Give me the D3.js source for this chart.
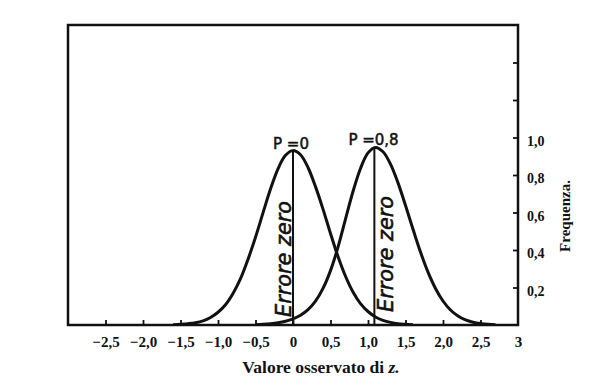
<!DOCTYPE html>
<html>
<head>
<meta charset="utf-8">
<script src="https://cdn.jsdelivr.net/npm/d3@7"></script>
<style>
  html, body { margin: 0; padding: 0; background: #fff; }
  svg { display: block; }
</style>
</head>
<body>
<svg id="chart" width="606" height="387"></svg>
<script>
// ---- data ----
const zA = [-1.6,-1.5,-1.4,-1.3,-1.2,-1.1,-1.0,-0.9,-0.8,-0.7,-0.6,-0.5,-0.4,-0.3,-0.2,-0.1,0.0,
            0.1,0.2,0.3,0.4,0.5,0.6,0.7,0.8,0.9,1.0,1.1,1.2,1.3,1.4,1.5,1.6];
const freqA = [0.002,0.004,0.007,0.012,0.022,0.040,0.068,0.108,0.168,0.247,0.350,0.468,0.598,0.725,0.833,0.905,0.930,
               0.908,0.840,0.738,0.618,0.488,0.365,0.260,0.176,0.114,0.072,0.043,0.025,0.014,0.007,0.004,0.002];

const zB = [-0.5,-0.4,-0.3,-0.2,-0.1,0.0,0.1,0.2,0.3,0.4,0.5,0.6,0.7,0.8,0.9,1.0,1.1,
            1.2,1.3,1.4,1.5,1.6,1.7,1.8,1.9,2.0,2.1,2.2,2.3,2.4,2.5,2.6,2.7];
const freqB = [0.002,0.004,0.007,0.012,0.020,0.033,0.052,0.082,0.127,0.195,0.290,0.415,0.565,0.712,0.835,0.918,0.947,
               0.924,0.858,0.758,0.638,0.511,0.389,0.282,0.195,0.128,0.080,0.048,0.027,0.015,0.008,0.004,0.002];

const curveLabels = ["P =0", "P =0,8"];
const peakZ = [0, 1.1];
const peakFreq = [0.93, 0.947];

const errorZeroX = [0, 1.085];
const errorZeroTop = [0.93, 0.945];
const errorZeroLabel = "Errore zero";

const xTicks = [-2.5,-2.0,-1.5,-1.0,-0.5,0,0.5,1.0,1.5,2.0,2.5,3];
const xTickLabels = ["\u22122,5","\u22122,0","\u22121,5","\u22121,0","\u22120,5","0","0,5","1,0","1,5","2,0","2,5","3"];
const yTicks = [0.2,0.4,0.6,0.8,1.0,1.2,1.4];
const yTickLabels = ["0,2","0,4","0,6","0,8","1,0","",""];

const xTitle = "Valore osservato di ";
const xTitleVar = "z.";
const yTitle = "Frequenza.";

// ---- layout ----
const svg = d3.select("#chart");
const pLeft = 68, pRight = 518, pTop = 25, pBottom = 325;
const x = d3.scaleLinear().domain([-3, 3]).range([pLeft, pRight]);
const y = d3.scaleLinear().domain([0, 1.6]).range([pBottom, pTop]);
const ink = "#111";

// frame
svg.append("rect")
  .attr("x", pLeft).attr("y", pTop)
  .attr("width", pRight - pLeft).attr("height", pBottom - pTop)
  .attr("fill", "none").attr("stroke", ink).attr("stroke-width", 2.5);

// bottom axis
const xAxis = d3.axisBottom(x)
  .tickValues(xTicks)
  .tickSizeInner(-5).tickSizeOuter(0).tickPadding(11)
  .tickFormat((d, i) => xTickLabels[i]);
const gx = svg.append("g").attr("transform", `translate(0,${pBottom})`).call(xAxis);
gx.select(".domain").remove();
gx.selectAll(".tick line").attr("stroke", ink).attr("stroke-width", 1.8)
  .attr("opacity", (d) => d === 3 ? 0 : 1);
gx.selectAll(".tick text")
  .attr("fill", ink)
  .style("font-family", "'Liberation Serif', serif")
  .style("font-weight", "bold")
  .style("font-size", "15px");

// right axis
const yAxis = d3.axisRight(y)
  .tickValues(yTicks)
  .tickSizeInner(-5).tickSizeOuter(0).tickPadding(9)
  .tickFormat((d, i) => yTickLabels[i]);
const gy = svg.append("g").attr("transform", `translate(${pRight},0)`).call(yAxis);
gy.select(".domain").remove();
gy.selectAll(".tick line").attr("stroke", ink).attr("stroke-width", 1.8);
gy.selectAll(".tick text")
  .attr("fill", ink)
  .attr("dy", "0.55em")
  .style("font-family", "'Liberation Serif', serif")
  .style("font-weight", "bold")
  .style("font-size", "14px");

// axis titles
const xt = svg.append("text")
  .attr("x", 321).attr("y", 373)
  .attr("text-anchor", "middle")
  .attr("fill", ink)
  .style("font-family", "'Liberation Serif', serif")
  .style("font-weight", "bold")
  .style("font-size", "17.5px");
xt.append("tspan").text(xTitle);
xt.append("tspan").style("font-style", "italic").text(xTitleVar);

svg.append("text")
  .attr("transform", `translate(570,216) rotate(-90)`)
  .attr("text-anchor", "middle")
  .attr("fill", ink)
  .style("font-family", "'Liberation Serif', serif")
  .style("font-weight", "bold")
  .style("font-size", "15px")
  .text(yTitle);

// curves
const line = d3.line()
  .x(d => x(d[0])).y(d => y(d[1]))
  .curve(d3.curveCatmullRom.alpha(0.5));

const seriesA = zA.map((z, i) => [z, freqA[i]]);
const seriesB = zB.map((z, i) => [z, freqB[i]]);

svg.append("path").datum(seriesA)
  .attr("d", line).attr("fill", "none")
  .attr("stroke", ink).attr("stroke-width", 3).attr("stroke-linejoin", "round");
svg.append("path").datum(seriesB)
  .attr("d", line).attr("fill", "none")
  .attr("stroke", ink).attr("stroke-width", 3).attr("stroke-linejoin", "round");

// "Errore zero" vertical lines
svg.selectAll("line.ez").data(errorZeroX).enter().append("line")
  .attr("class", "ez")
  .attr("x1", d => x(d)).attr("x2", d => x(d))
  .attr("y1", y(0)).attr("y2", (d, i) => y(errorZeroTop[i]))
  .attr("stroke", ink).attr("stroke-width", 2);

// "Errore zero" labels: left one to the left of its line, right one to the right
const ezOffsets = [-2, 19];
const ezStart = [317, 312];
svg.selectAll("text.ezl").data(errorZeroX).enter().append("text")
  .attr("class", "ezl")
  .attr("transform", (d, i) => `translate(${x(d) + ezOffsets[i]},${ezStart[i]}) rotate(-90)`)
  .attr("fill", ink)
  .attr("stroke", ink).attr("stroke-width", 0.6)
  .attr("textLength", 116)
  .attr("lengthAdjust", "spacingAndGlyphs")
  .style("font-family", "'DejaVu Sans', sans-serif")
  .style("font-style", "italic")
  .style("font-size", "22px")
  .text(errorZeroLabel);

// rho labels above the peaks
svg.selectAll("text.rho").data(peakZ).enter().append("text")
  .attr("class", "rho")
  .attr("x", d => x(d) - 2)
  .attr("y", (d, i) => y(peakFreq[i]) - 2)
  .attr("text-anchor", "middle")
  .attr("fill", ink)
  .attr("stroke", ink).attr("stroke-width", 0.5)
  .style("font-family", "'DejaVu Sans', sans-serif")
  .style("font-size", "15px")
  .text((d, i) => curveLabels[i]);
</script>
</body>
</html>
